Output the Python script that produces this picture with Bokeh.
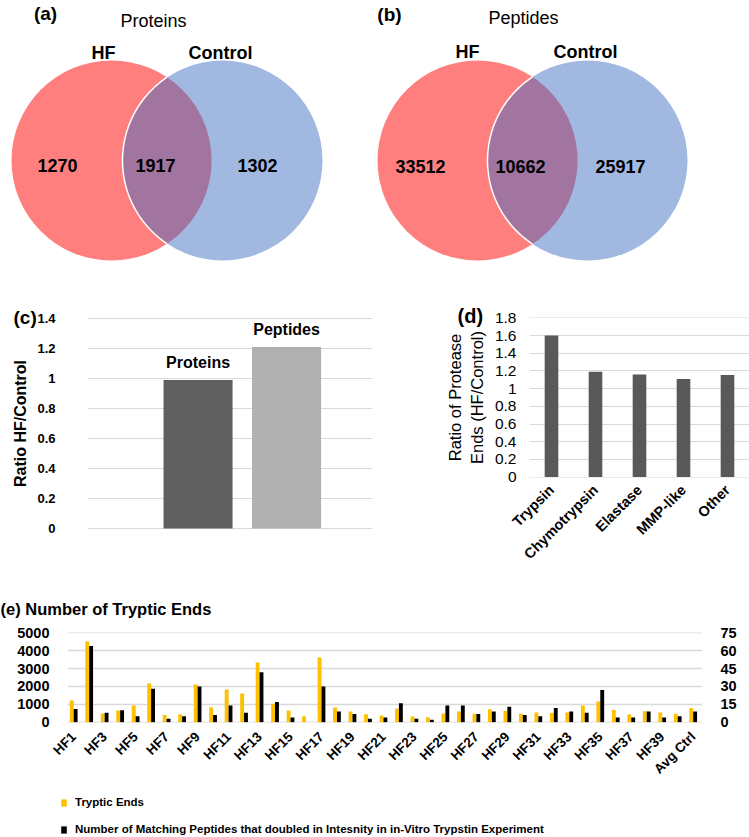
import numpy as np
from bokeh.plotting import figure
from bokeh.layouts import column, row
from bokeh.models import (Range1d, LinearAxis, FixedTicker, CustomJSTickFormatter,
                          Legend, LegendItem, ColumnDataSource)
from bokeh.core.properties import value
from bokeh.embed import file_html
from bokeh.resources import INLINE

# ---------------- data ----------------
venn_sets = ["HF", "Control"]
venn_titles = ["Proteins", "Peptides"]
venn_letters = ["(a)", "(b)"]
protein_counts = [1270, 1917, 1302]      # HF only, shared, Control only
peptide_counts = [33512, 10662, 25917]

ratio_categories = ["Proteins", "Peptides"]
ratio_values = [0.99, 1.21]

protease_categories = ["Trypsin", "Chymotrypsin", "Elastase", "MMP-like", "Other"]
protease_ratios = [1.60, 1.19, 1.16, 1.11, 1.155]

sample_labels = ["HF%d" % i for i in range(1, 41)] + ["Avg Ctrl"]
tryptic_ends = [1210, 4510, 490, 650, 930, 2160, 410, 450, 2110, 840,
                1830, 1600, 3340, 1030, 650, 340, 3620, 820, 600, 450,
                370, 770, 320, 280, 490, 600, 470, 730, 630, 470,
                540, 520, 540, 930, 1160, 690, 430, 620, 540, 470, 800]
doubled_peptides = [11, 64, 8, 10, 5, 28, 3, 5, 30, 6,
                    14, 8, 42, 17, 4, 0, 30, 9, 7, 3,
                    4, 16, 3, 2, 14, 14, 7, 9, 13, 6,
                    5, 12, 9, 8, 27, 4, 4, 9, 4, 5, 9]
series_names = ["Tryptic Ends",
                "Number of Matching Peptides that doubled in Intesnity in in-Vitro Trypstin Experiment"]
series_colors = ["#FFC000", "#000000"]

# ---------------- styles ----------------
RED = "#FF7F7F"
BLUE = "#A1B9E1"
PURPLE = "#A1759F"
GRID = "#D9D9D9"
FONT = "Liberation Sans"
W = 749


def fmt_ratio():
    return CustomJSTickFormatter(code="return String(Number(tick.toFixed(1)));")


def style_plain(p):
    p.outline_line_color = None
    p.background_fill_color = "white"
    p.border_fill_color = "white"


def style_title(p, text, size, offset, standoff):
    p.title.text = text
    p.title.align = "left"
    p.title.offset = offset
    p.title.standoff = standoff
    p.title.vertical_align = "bottom"
    p.title.text_font = FONT
    p.title.text_font_style = "bold"
    p.title.text_font_size = size
    p.title.text_color = "black"


# ---------------- (a) + (b) Venn diagrams ----------------
fig_ab = figure(width=W, height=285, x_range=Range1d(0, W), y_range=Range1d(285, 0),
                output_backend="svg", toolbar_location=None, frame_align=False,
                x_axis_location=None, y_axis_location=None, min_border=0)
style_plain(fig_ab)
fig_ab.grid.visible = False

R = 100
venn_layout = [
    dict(c1=111, c2=222, cy=160, title=(153, 20), letter=(45, 13),
         set_pos=[(103, 52), (220, 52)], count_x=[57, 155, 257], count_y=165),
    dict(c1=477, c2=587, cy=160, title=(523, 17), letter=(389, 14),
         set_pos=[(467, 51), (585, 51)], count_x=[420, 520, 620], count_y=166),
]
venn_counts = [protein_counts, peptide_counts]

for k, lay in enumerate(venn_layout):
    c1, c2, cy = lay["c1"], lay["c2"], lay["cy"]
    fig_ab.circle(x=[c1], y=[cy], radius=R, fill_color=RED, line_color=None)
    fig_ab.circle(x=[c2], y=[cy], radius=R, fill_color=BLUE, line_color=None)
    d = c2 - c1
    alpha = np.arccos((d / 2) / R)
    t_right = np.linspace(-alpha, alpha, 80)                 # arc of circle 1
    t_left = np.linspace(np.pi - alpha, np.pi + alpha, 80)   # arc of circle 2
    xs = np.concatenate([c1 + R * np.cos(t_right), c2 + R * np.cos(t_left)])
    ys = np.concatenate([cy + R * np.sin(t_right), cy + R * np.sin(t_left)])
    fig_ab.patch(xs, ys, fill_color=PURPLE, line_color=None)
    fig_ab.line(c2 + R * np.cos(t_left), cy + R * np.sin(t_left), line_color="white", line_width=1.5)

    fig_ab.text(x=[lay["title"][0]], y=[lay["title"][1]], text=[venn_titles[k]],
                text_font=value(FONT), text_font_size="18px", text_align="center",
                text_baseline="middle", text_color="black")
    fig_ab.text(x=[lay["letter"][0]], y=[lay["letter"][1]], text=[venn_letters[k]],
                text_font=value(FONT), text_font_size="19px", text_font_style="bold",
                text_align="center", text_baseline="middle", text_color="black")
    fig_ab.text(x=[p[0] for p in lay["set_pos"]], y=[p[1] for p in lay["set_pos"]], text=venn_sets,
                text_font=value(FONT), text_font_size="18px", text_font_style="bold",
                text_align="center", text_baseline="middle", text_color="black")
    fig_ab.text(x=lay["count_x"], y=[lay["count_y"]] * 3, text=[str(v) for v in venn_counts[k]],
                text_font=value(FONT), text_font_size="18px", text_font_style="bold",
                text_align="center", text_baseline="middle", text_color="black")

# ---------------- (c) ratio HF/Control ----------------
ROW2_H = 290
fig_c = figure(width=400, height=ROW2_H, x_range=Range1d(-1.249, 1.971), y_range=Range1d(-0.006, 1.406),
               output_backend="svg", toolbar_location=None, frame_align=False, title="(c)",
               min_border_left=87, min_border_right=28, min_border_top=32, min_border_bottom=46)
style_plain(fig_c)
style_title(fig_c, "(c)", "19px", -74, -21)
fig_c.xaxis.visible = False
fig_c.xgrid.visible = False
fig_c.ygrid.grid_line_color = GRID
fig_c.ygrid.grid_line_width = 1.2
yax = fig_c.yaxis[0]
yax.ticker = FixedTicker(ticks=[round(0.2 * i, 1) for i in range(8)])
yax.formatter = fmt_ratio()
yax.axis_line_color = None
yax.major_tick_line_color = None
yax.minor_tick_line_color = None
yax.major_label_standoff = 26
yax.major_label_text_font = FONT
yax.major_label_text_font_style = "bold"
yax.major_label_text_font_size = "13px"
yax.major_label_text_color = "black"
yax.axis_label = "Ratio HF/Control"
yax.axis_label_text_font = FONT
yax.axis_label_text_font_style = "bold"
yax.axis_label_text_font_size = "16px"
yax.axis_label_text_color = "black"
yax.axis_label_standoff = 5

src_c = ColumnDataSource(dict(x=list(range(len(ratio_categories))), top=ratio_values,
                              name=ratio_categories, color=["#606060", "#B0B0B0"]))
fig_c.vbar(x="x", top="top", width=0.78, fill_color="color", line_color=None, source=src_c)
fig_c.text(x="x", y="top", text="name", source=src_c, y_offset=-9,
           text_font=value(FONT), text_font_style="bold", text_font_size="16px",
           text_align="center", text_baseline="bottom", text_color="black")

# ---------------- (d) protease ends ----------------
fig_d = figure(width=W - 400, height=ROW2_H, x_range=protease_categories,
               y_range=Range1d(-0.005, 1.805),
               output_backend="svg", toolbar_location=None, frame_align=False, title="(d)",
               min_border_left=129, min_border_right=0, min_border_top=32, min_border_bottom=98)
style_plain(fig_d)
style_title(fig_d, "(d)", "20px", -72, -18)
fig_d.x_range.range_padding = 0
fig_d.xgrid.visible = False
fig_d.ygrid.grid_line_color = GRID
fig_d.ygrid.grid_line_width = 1.2
fig_d.vbar(x=protease_categories, top=protease_ratios, width=0.31, fill_color="#595959", line_color=None)
xd = fig_d.xaxis[0]
xd.axis_line_color = None
xd.major_tick_line_color = None
xd.major_label_orientation = np.pi / 4
xd.major_label_standoff = 4
xd.major_label_text_font = FONT
xd.major_label_text_font_style = "bold"
xd.major_label_text_font_size = "14.5px"
xd.major_label_text_color = "black"
yd = fig_d.yaxis[0]
yd.ticker = FixedTicker(ticks=[round(0.2 * i, 1) for i in range(10)])
yd.formatter = fmt_ratio()
yd.axis_line_color = None
yd.major_tick_line_color = None
yd.minor_tick_line_color = None
yd.major_label_standoff = 7
yd.major_label_text_font = FONT
yd.major_label_text_font_size = "15.5px"
yd.major_label_text_color = "black"
yd.axis_label = "Ratio of Protease\nEnds (HF/Control)"
yd.axis_label_text_font = FONT
yd.axis_label_text_font_style = "normal"
yd.axis_label_text_font_size = "16.5px"
yd.axis_label_text_color = "black"
yd.axis_label_standoff = 6

# ---------------- (e) tryptic ends ----------------
n = len(sample_labels)
idx = np.arange(n)
src_e = ColumnDataSource(dict(x_te=idx - 0.125, x_dp=idx + 0.125,
                              tryptic=tryptic_ends, doubled=doubled_peptides))
E_TOP = 285 + ROW2_H
fig_e = figure(width=W, height=790 - E_TOP, x_range=Range1d(-0.4, n - 0.4),
               y_range=Range1d(-15, 5015),
               output_backend="svg", toolbar_location=None, frame_align=False,
               title="(e) Number of Tryptic Ends",
               min_border_left=67, min_border_right=47, min_border_top=632 - E_TOP,
               min_border_bottom=790 - 722)
style_plain(fig_e)
style_title(fig_e, "(e) Number of Tryptic Ends", "16.5px", -67, 29)
fig_e.extra_y_ranges = {"right": Range1d(-0.225, 75.225)}
fig_e.vbar(x="x_te", top="tryptic", width=0.25, fill_color=series_colors[0], line_color=None, source=src_e)
fig_e.vbar(x="x_dp", top="doubled", width=0.25, fill_color=series_colors[1], line_color=None,
           y_range_name="right", source=src_e)
fig_e.xgrid.visible = False
fig_e.ygrid.grid_line_color = GRID
fig_e.ygrid.grid_line_width = 1.5

xe = fig_e.xaxis[0]
xe.ticker = FixedTicker(ticks=list(range(0, n, 2)))
xe.major_label_overrides = {i: sample_labels[i] for i in range(0, n, 2)}
xe.axis_line_color = None
xe.major_tick_line_color = None
xe.minor_tick_line_color = None
xe.major_label_orientation = np.pi / 4
xe.major_label_standoff = 6
xe.major_label_text_font = FONT
xe.major_label_text_font_style = "bold"
xe.major_label_text_font_size = "13.5px"
xe.major_label_text_color = "black"

ye = fig_e.yaxis[0]
ye.ticker = FixedTicker(ticks=[1000 * i for i in range(6)])
ye_right = LinearAxis(y_range_name="right", ticker=FixedTicker(ticks=[15 * i for i in range(6)]))
fig_e.add_layout(ye_right, "right")
for ax in (ye, ye_right):
    ax.axis_line_color = None
    ax.major_tick_line_color = None
    ax.minor_tick_line_color = None
    ax.major_label_standoff = 12
    ax.major_label_text_font = FONT
    ax.major_label_text_font_style = "bold"
    ax.major_label_text_font_size = "14.5px"
    ax.major_label_text_color = "black"

# ---------------- legend strip for (e) ----------------
# The strip shares the (e) data source; its ranges keep the bars out of view so
# only the legend (which needs renderers with data) shows.
LEG_H = 836 - 790
fig_leg = figure(width=W, height=LEG_H, x_range=Range1d(-2 * W, -W), y_range=Range1d(-2 * LEG_H, -LEG_H),
                 output_backend="svg", toolbar_location=None, frame_align=False,
                 x_axis_location=None, y_axis_location=None, min_border=0)
style_plain(fig_leg)
fig_leg.grid.visible = False
leg_r1 = fig_leg.vbar(x="x_te", top="tryptic", width=0.25, fill_color=series_colors[0],
                      line_color=None, source=src_e)
leg_r2 = fig_leg.vbar(x="x_dp", top="doubled", width=0.25, fill_color=series_colors[1],
                      line_color=None, source=src_e)
legend = Legend(items=[LegendItem(label=series_names[0], renderers=[leg_r1]),
                       LegendItem(label=series_names[1], renderers=[leg_r2])],
                location=(60, 0), orientation="vertical",
                glyph_width=7, glyph_height=9, label_height=14, spacing=13, label_standoff=8,
                padding=0, margin=0, border_line_color=None, background_fill_alpha=0,
                label_text_font=FONT, label_text_font_style="bold",
                label_text_font_size="11.5px", label_text_color="black")
fig_leg.add_layout(legend)

layout = column(fig_ab, row(fig_c, fig_d), fig_e, fig_leg)
open("out.html", "w").write(file_html(layout, INLINE))
